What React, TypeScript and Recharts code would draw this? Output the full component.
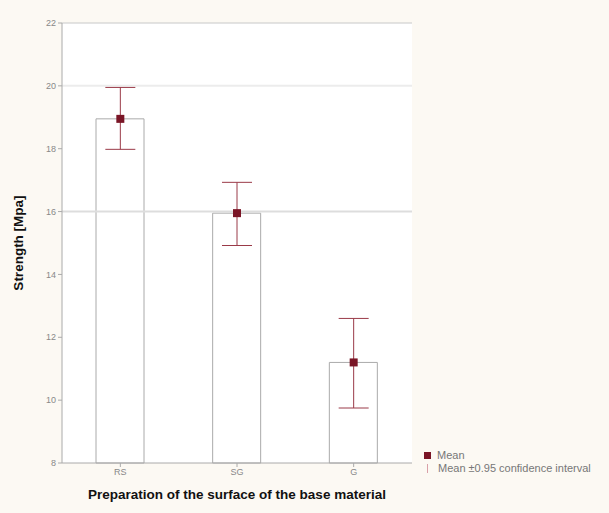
import React from 'react';
import {
  ComposedChart,
  Bar,
  Scatter,
  ErrorBar,
  XAxis,
  YAxis,
  CartesianGrid,
  ReferenceLine,
  Label,
} from 'recharts';

const CATEGORIES = ['RS', 'SG', 'G'];
const MEANS = [18.95, 15.95, 11.2];
const CI_LOW = [0.97, 1.03, 1.45];
const CI_HIGH = [1.0, 0.98, 1.4];
const Y_TICKS = [8, 10, 12, 14, 16, 18, 20, 22];

const FONT = 'Liberation Sans, Arial, sans-serif';

const data = CATEGORIES.map((name, i) => ({
  name,
  mean: MEANS[i],
  ci: [CI_LOW[i], CI_HIGH[i]],
}));

const MeanDot = (props: any) => {
  const { cx, cy } = props;
  if (cx == null || cy == null) return null;
  return <rect x={cx - 4} y={cy - 4} width={8} height={8} fill="#7a1526" />;
};

const YTitle = (props: any) => {
  const { viewBox } = props;
  const x = 23;
  const y = viewBox.y + viewBox.height / 2;
  return (
    <text
      x={x}
      y={y}
      transform={`rotate(-90, ${x}, ${y})`}
      textAnchor="middle"
      fontSize={13.5}
      fontWeight="bold"
      fill="#111"
      fontFamily={FONT}
    >
      Strength [Mpa]
    </text>
  );
};

const LegendBox = () => (
  <div
    style={{
      position: 'absolute',
      left: 424,
      top: 449,
      fontFamily: FONT,
      fontSize: 11,
      color: '#777',
      lineHeight: '13px',
    }}
  >
    <div style={{ display: 'flex', alignItems: 'center' }}>
      <span
        style={{
          display: 'inline-block',
          width: 7,
          height: 7,
          background: '#7a1526',
          marginRight: 6,
        }}
      />
      Mean
    </div>
    <div style={{ display: 'flex', alignItems: 'center' }}>
      <span
        style={{
          display: 'inline-block',
          width: 7,
          height: 9,
          borderLeft: '1px solid #d9a0a8',
          marginLeft: 3,
          marginRight: 3,
        }}
      />
      Mean ±0.95 confidence interval
    </div>
  </div>
);

export default function App() {
  return (
    <div
      style={{
        position: 'absolute',
        left: 0,
        top: 0,
        width: 609,
        height: 513,
        background: '#fcf9f3',
      }}
    >
      <ComposedChart
        width={609}
        height={513}
        data={data}
        margin={{ top: 23, right: 197, bottom: 5, left: 28 }}
        barCategoryGap="29%"
      >
        <CartesianGrid
          vertical={false}
          horizontal={false}
          fill="#ffffff"
          stroke="#bbbbbb"
        />
        <ReferenceLine y={20} stroke="#ececec" strokeWidth={2} />
        <ReferenceLine y={16} stroke="#dddddd" strokeWidth={2} />
        <ReferenceLine y={22} stroke="#c8c8c8" strokeWidth={1} />
        <XAxis
          dataKey="name"
          height={45}
          tick={{ fontSize: 9, fill: '#888', fontFamily: FONT }}
          tickLine={{ stroke: '#aaa' }}
          axisLine={{ stroke: '#aaa' }}
          tickSize={4}
          label={{
            value: 'Preparation of the surface of the base material',
            position: 'insideBottom',
            offset: 9,
            fontSize: 13.5,
            fontWeight: 'bold',
            fill: '#111',
            fontFamily: FONT,
          }}
        />
        <YAxis
          domain={[8, 22]}
          ticks={Y_TICKS}
          interval={0}
          width={34}
          tick={{ fontSize: 9, fill: '#888', fontFamily: FONT }}
          tickLine={{ stroke: '#aaa' }}
          axisLine={{ stroke: '#aaa' }}
          tickSize={4}
        >
          <Label content={<YTitle />} />
        </YAxis>
        <YAxis
          yAxisId="right"
          orientation="right"
          width={0}
          tick={false}
          tickLine={false}
          axisLine={{ stroke: '#c8c8c8' }}
        />
        <Bar
          dataKey="mean"
          fill="#ffffff"
          stroke="#aaaaaa"
          strokeWidth={1}
          barSize={48}
          isAnimationActive={false}
        />
        <Scatter dataKey="mean" shape={<MeanDot />} isAnimationActive={false}>
          <ErrorBar
            dataKey="ci"
            direction="y"
            width={15}
            stroke="#9a3a48"
            strokeWidth={1}
          />
        </Scatter>
      </ComposedChart>
      <LegendBox />
    </div>
  );
}
